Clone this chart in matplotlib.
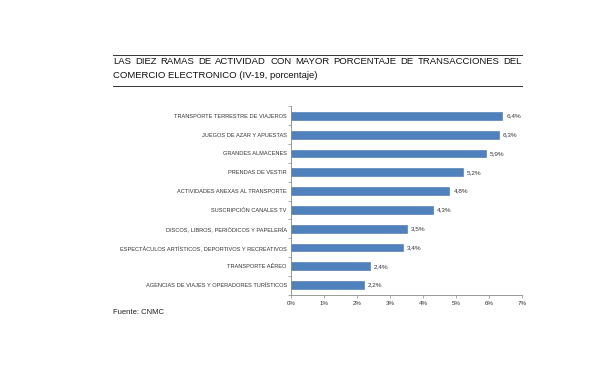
import numpy as np
import matplotlib
matplotlib.use("Agg")
import matplotlib.pyplot as plt
from matplotlib.ticker import FixedLocator

plt.rcParams['font.family'] = ['Liberation Sans', 'DejaVu Sans']

categorias = [
    "TRANSPORTE TERRESTRE DE VIAJEROS",
    "JUEGOS DE AZAR Y APUESTAS",
    "GRANDES ALMACENES",
    "PRENDAS DE VESTIR",
    "ACTIVIDADES ANEXAS AL TRANSPORTE",
    "SUSCRIPCIÓN CANALES TV",
    "DISCOS, LIBROS, PERIÓDICOS Y PAPELERÍA",
    "ESPECTÁCULOS ARTÍSTICOS, DEPORTIVOS Y RECREATIVOS",
    "TRANSPORTE AÉREO",
    "AGENCIAS DE VIAJES Y OPERADORES TURÍSTICOS",
]
valores = [6.4, 6.3, 5.9, 5.2, 4.8, 4.3, 3.5, 3.4, 2.4, 2.2]
etiquetas = ["6,4%", "6,3%", "5,9%", "5,2%", "4,8%", "4,3%", "3,5%", "3,4%", "2,4%", "2,2%"]
xticks = [0, 1, 2, 3, 4, 5, 6, 7]
xticklabels = ["0%", "1%", "2%", "3%", "4%", "5%", "6%", "7%"]
titulo1 = "LAS DIEZ RAMAS DE ACTIVIDAD CON MAYOR PORCENTAJE DE TRANSACCIONES DEL"
titulo2 = "COMERCIO ELECTRONICO (IV-19, porcentaje)"

W, H = 596, 367
fig = plt.figure(figsize=(W / 100, H / 100), dpi=100)

ax = fig.add_axes([291 / W, 1 - 294.5 / H, (522 - 291) / W, (294.5 - 106.5) / H])
y = np.arange(len(categorias))
ax.barh(y, valores, height=0.42, color='#4f81bd', edgecolor='#4575b0', linewidth=0.4)
ax.set_ylim(len(categorias) - 0.5, -0.5)
ax.set_xlim(0, 7)

ax.set_yticks(y)
ax.set_yticklabels(categorias, fontsize=4.1, color='#333333')
ax.tick_params(axis='y', which='major', length=0, pad=3)
ax.yaxis.set_minor_locator(FixedLocator(np.arange(-0.5, len(categorias), 1.0)))
ax.tick_params(axis='y', which='minor', length=2, width=0.5, color='#888888')

ax.set_xticks(xticks)
ax.set_xticklabels(xticklabels, fontsize=4.4, color='#333333')
ax.tick_params(axis='x', length=2, width=0.5, color='#888888', pad=3)

for s in ['top', 'right']:
    ax.spines[s].set_visible(False)
for s in ['left', 'bottom']:
    ax.spines[s].set_color('#888888')
    ax.spines[s].set_linewidth(0.6)

for yi, v, t in zip(y, valores, etiquetas):
    ax.text(v + 0.12, yi, t, va='center', ha='left', fontsize=4.6, color='#333333')

# title, first line justified between the rules
x0, x1 = 113, 522
fig.canvas.draw()
renderer = fig.canvas.get_renderer()
palabras = titulo1.split()
textos = [fig.text(0, 1 - 62 / H, p, fontsize=6.8, va='center', ha='left', color='#111111')
          for p in palabras]
anchos = [t.get_window_extent(renderer).width for t in textos]
hueco = (x1 - x0 - sum(anchos)) / (len(palabras) - 1)
xpos = x0
for t, w in zip(textos, anchos):
    t.set_x(xpos / W)
    xpos += w + hueco
fig.text(x0 / W, 1 - 75 / H, titulo2, fontsize=6.8, va='center', ha='left', color='#111111')
fig.add_artist(plt.Line2D([x0 / W, x1 / W], [1 - 55 / H, 1 - 55 / H], color='#333333', lw=0.7))
fig.add_artist(plt.Line2D([x0 / W, x1 / W], [1 - 86 / H, 1 - 86 / H], color='#333333', lw=0.7))

fig.text(x0 / W, 1 - 313 / H, "Fuente: CNMC", fontsize=5.5, va='center', ha='left', color='#222222')

fig.savefig("out.png", dpi=100)
